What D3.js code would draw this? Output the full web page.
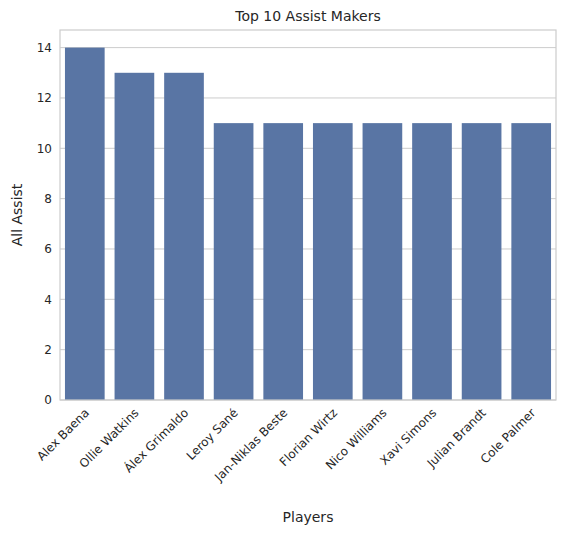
<!DOCTYPE html>
<html><head><meta charset="utf-8">
<script src="https://cdn.jsdelivr.net/npm/d3@7"></script>
<style>body{margin:0;background:#fff}text{font-family:"DejaVu Sans",sans-serif;fill:#262626}</style>
</head><body><svg id="c" width="576" height="534"></svg>
<script>
const players=["Alex Baena","Ollie Watkins","Álex Grimaldo","Leroy Sané","Jan-Niklas Beste","Florian Wirtz","Nico Williams","Xavi Simons","Julian Brandt","Cole Palmer"];
const assists=[14,13,13,11,11,11,11,11,11,11];
const yTicks=[0,2,4,6,8,10,12,14];
const svg=d3.select("#c");
const L=60,R=556,T=30,B=400;
const x=d3.scaleBand().domain(players).range([L,R]).paddingInner(0.2).paddingOuter(0.1);
const y=d3.scaleLinear().domain([0,14.7]).range([B,T]);
svg.append("g").selectAll("line").data(yTicks).join("line")
 .attr("x1",L).attr("x2",R).attr("y1",d=>y(d)).attr("y2",d=>y(d)).attr("stroke","#cccccc").attr("stroke-width",1);
svg.append("g").selectAll("rect").data(players).join("rect")
 .attr("x",d=>x(d)).attr("width",x.bandwidth()).attr("y",(d,i)=>y(assists[i])).attr("height",(d,i)=>B-y(assists[i])).attr("fill","#5975a4");
svg.append("rect").attr("x",L).attr("y",T).attr("width",R-L).attr("height",B-T).attr("fill","none").attr("stroke","#cccccc").attr("stroke-width",1.2);
const ya=svg.append("g").attr("transform",`translate(${L},0)`).call(d3.axisLeft(y).tickValues(yTicks).tickSize(0).tickPadding(8));
ya.select(".domain").remove();ya.selectAll("text").attr("font-size",12).attr("font-family","DejaVu Sans").attr("fill","#262626");
const xa=svg.append("g").attr("transform",`translate(0,${B})`).call(d3.axisBottom(x).tickSize(0).tickPadding(6));
xa.select(".domain").remove();
xa.selectAll("text").attr("font-size",12).attr("font-family","DejaVu Sans").attr("fill","#262626")
 .attr("text-anchor","end").attr("dy","0.6em").attr("transform","rotate(-45)translate(-6,0)");
svg.append("text").attr("x",(L+R)/2).attr("y",T-9).attr("text-anchor","middle").attr("font-size",14).text("Top 10 Assist Makers");
svg.append("text").attr("x",(L+R)/2).attr("y",522).attr("text-anchor","middle").attr("font-size",14).text("Players");
svg.append("text").attr("transform",`translate(22,${(T+B)/2})rotate(-90)`).attr("text-anchor","middle").attr("font-size",14).text("All Assist");
</script></body></html>
